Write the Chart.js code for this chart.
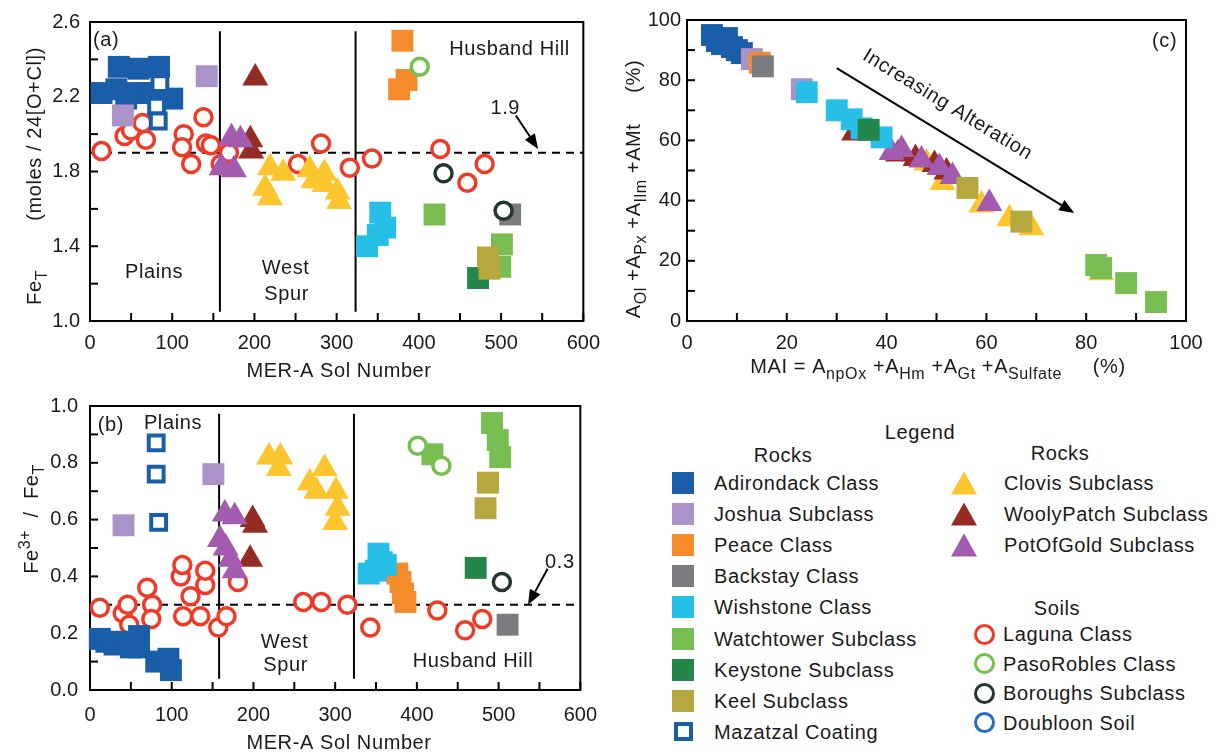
<!DOCTYPE html>
<html lang="en">
<head>
    <meta charset="UTF-8">
    <title>MER-A iron chemistry and alteration</title>
    <script src="https://cdn.jsdelivr.net/npm/chart.js"></script>
    <style>
        body {
            margin: 0;
            background: #fff;
            font-family: "Liberation Sans", Arial, sans-serif;
            color: #1a1a1a;
        }

        .page {
            position: relative;
            width: 1220px;
            height: 755px;
            overflow: hidden;
        }

        canvas { position: absolute; }
        #chartA { left: 0; top: 0; }
        #chartB { left: 0; top: 382px; }
        #chartC { left: 610px; top: 0; }

        .lg {
            position: absolute;
            font-size: 20px;
            line-height: 22px;
            letter-spacing: 0.6px;
            white-space: nowrap;
        }

        .head { transform: translateX(-50%); }
        .mk { position: absolute; box-sizing: border-box; }
        .sq { width: 22px; height: 22px; }
        .hsq { width: 19px; height: 19px; border: 4px solid #1a5ea9; background: #fff; }
        .tri { width: 26px; height: 23px; clip-path: polygon(50% 0, 100% 100%, 0 100%); }
        .ring { width: 21px; height: 21px; border: 3.5px solid; border-radius: 50%; }
    </style>
</head>
<body>
<div class="page">
    <canvas id="chartA" width="610" height="382"></canvas>
    <canvas id="chartB" width="610" height="373"></canvas>
    <canvas id="chartC" width="610" height="382"></canvas>

    <div class="lg head" style="left:920px; top:421px;">Legend</div>
    <div class="lg head" style="left:783px; top:444px;">Rocks</div>
    <div class="lg head" style="left:1060px; top:442px;">Rocks</div>
    <div class="lg head" style="left:1057px; top:597px;">Soils</div>
    <div id="legendItems"></div>
</div>

<script>
    // ---- data: [sol or MAI, value] pairs ----
    const solTickLabels = ['0', '100', '200', '300', '400', '500', '600'];
    const feTickLabels = ['1.0', '1.4', '1.8', '2.2', '2.6'];
    const ratioTickLabels = ['0.0', '0.2', '0.4', '0.6', '0.8', '1.0'];
    const pctTickLabels = ['0', '20', '40', '60', '80', '100'];

    // panel (a): Fe_T
    const lagunaA = [[14, 1.91], [42, 1.99], [50, 2.02], [68, 1.97], [64, 2.06], [114, 2.00], [112, 1.93], [123, 1.84], [138, 2.09], [141, 1.95], [147, 1.94], [159, 1.84], [169, 1.90], [253, 1.84], [281, 1.95], [316, 1.82], [343, 1.87], [426, 1.92], [459, 1.74], [480, 1.84]];
    const clovisA = [[219, 1.82], [235, 1.79], [213, 1.71], [219, 1.66], [267, 1.81], [285, 1.79], [272, 1.75], [285, 1.73], [301, 1.69], [303, 1.64]];
    const woolyA = [[201, 2.30], [195, 1.97], [196, 1.91]];
    const potOfGoldA = [[172, 1.98], [183, 1.97], [160, 1.82], [175, 1.81]];
    const adirondackA = [[35, 2.36], [59, 2.35], [84, 2.36], [14, 2.22], [32, 2.24], [58, 2.22], [74, 2.22], [100, 2.19], [44, 2.19]];
    const joshuaA = [[142, 2.31], [40, 2.10]];
    const peaceA = [[380, 2.50], [385, 2.29], [376, 2.24]];
    const backstayA = [[511, 1.57]];
    const wishstoneA = [[353, 1.58], [359, 1.50], [350, 1.46], [337, 1.40]];
    const watchtowerA = [[419, 1.57], [501, 1.41], [499, 1.29]];
    const keystoneA = [[472, 1.23]];
    const keelA = [[484, 1.34], [486, 1.28]];
    const mazatzalA = [[85, 2.27], [81, 2.15], [83, 2.07]];
    const pasoRoblesA = [[401, 2.36]];
    const boroughsA = [[430, 1.79], [503, 1.59]];

    // panel (b): Fe3+/Fe_T
    const lagunaB = [[12, 0.29], [40, 0.27], [46, 0.30], [48, 0.23], [70, 0.36], [76, 0.30], [75, 0.25], [111, 0.40], [113, 0.44], [114, 0.26], [123, 0.33], [135, 0.26], [141, 0.37], [141, 0.42], [157, 0.22], [167, 0.26], [181, 0.38], [261, 0.31], [283, 0.31], [315, 0.30], [343, 0.22], [425, 0.28], [459, 0.21], [480, 0.25]];
    const clovisB = [[219, 0.82], [233, 0.82], [231, 0.78], [269, 0.73], [287, 0.78], [277, 0.70], [301, 0.70], [303, 0.64], [300, 0.59]];
    const woolyB = [[199, 0.60], [202, 0.58], [196, 0.46]];
    const potOfGoldB = [[165, 0.62], [177, 0.61], [159, 0.53], [166, 0.50], [172, 0.46], [177, 0.42]];
    const adirondackB = [[12, 0.18], [20, 0.17], [30, 0.16], [46, 0.17], [50, 0.15], [60, 0.19], [60, 0.15], [81, 0.10], [96, 0.11], [99, 0.07]];
    const joshuaB = [[41, 0.58], [151, 0.76]];
    const peaceB = [[376, 0.41], [380, 0.38], [383, 0.34], [386, 0.31]];
    const backstayB = [[511, 0.23]];
    const wishstoneB = [[353, 0.48], [357, 0.45], [341, 0.41], [350, 0.42], [362, 0.44]];
    const watchtowerB = [[419, 0.83], [492, 0.94], [499, 0.88], [502, 0.82]];
    const keystoneB = [[472, 0.43]];
    const keelB = [[487, 0.73], [484, 0.64]];
    const mazatzalB = [[81, 0.87], [81, 0.76], [84, 0.59]];
    const pasoRoblesB = [[401, 0.86], [430, 0.79]];
    const boroughsB = [[504, 0.38]];

    // panel (c): primary minerals vs MAI (%)
    const clovisC = [[48, 52.5], [51.2, 46], [59, 38.5], [64.6, 34], [69, 31], [83, 16]];
    const woolyC = [[33.5, 62.5], [42.3, 55.5], [45.8, 54], [49.6, 52], [52, 49.5]];
    const potOfGoldC = [[41, 56], [43, 57], [47, 53.5], [50.6, 51], [53.2, 48], [60.6, 39]];
    const adirondackC = [[5, 95], [6, 93], [8, 94], [9, 91], [11, 89], [7, 92], [10, 90]];
    const joshuaC = [[13, 87], [23, 77]];
    const peaceC = [[14.6, 85.8]];
    const backstayC = [[15.2, 84.6]];
    const wishstoneC = [[24, 76], [30, 70], [33, 67], [35, 64], [39, 61]];
    const watchtowerC = [[82, 18.6], [83, 17.6], [88, 12.6], [94, 6.3]];
    const keystoneC = [[36.4, 63.5]];
    const keelC = [[56.2, 44.2], [67, 33]];

    const FONT = '"Liberation Sans", Arial, sans-serif';
    const INK = '#1a1a1a';

    const styles = {
        laguna: { shape: 'circle', color: '#ee3a27' },
        pasoRobles: { shape: 'circle', color: '#74c14e' },
        boroughs: { shape: 'circle', color: '#24372f' },
        doubloon: { shape: 'circle', color: '#1f6fbd' },
        clovis: { shape: 'triangle', color: '#fdc62f' },
        wooly: { shape: 'triangle', color: '#952c23' },
        potOfGold: { shape: 'triangle', color: '#a25bae' },
        adirondack: { shape: 'rect', color: '#1a5ea9' },
        joshua: { shape: 'rect', color: '#a993c9' },
        peace: { shape: 'rect', color: '#f58b2b' },
        backstay: { shape: 'rect', color: '#7a7c7f' },
        wishstone: { shape: 'rect', color: '#27bfe7' },
        watchtower: { shape: 'rect', color: '#78bd52' },
        keystone: { shape: 'rect', color: '#23864a' },
        keel: { shape: 'rect', color: '#b4a83f' },
        mazatzal: { shape: 'rect', color: '#1a5ea9', hollow: true }
    };

    // order: first series in the list ends up at the bottom of the stack
    function toDataset(key, pts, order) {
        const s = styles[key];
        const ds = { label: key, data: pts, pointStyle: s.shape, clip: false, order: order };
        if (s.shape === 'circle') {
            return Object.assign(ds, { pointRadius: 8.5, pointBackgroundColor: '#fff', pointBorderColor: s.color, pointBorderWidth: 3.5 });
        }
        if (s.hollow) {
            return Object.assign(ds, { pointRadius: 10.5, pointBackgroundColor: '#fff', pointBorderColor: s.color, pointBorderWidth: 4 });
        }
        if (s.shape === 'triangle') {
            return Object.assign(ds, { pointRadius: 15, pointBackgroundColor: s.color, pointBorderWidth: 0 });
        }
        return Object.assign(ds, { pointRadius: 15.5, pointBackgroundColor: s.color, pointBorderWidth: 0 });
    }

    // ---- drawing helpers ----
    function line(ctx, x0, y0, x1, y1) {
        ctx.beginPath();
        ctx.moveTo(x0, y0);
        ctx.lineTo(x1, y1);
        ctx.stroke();
    }

    function arrow(ctx, x0, y0, x1, y1) {
        const ang = Math.atan2(y1 - y0, x1 - x0);
        const len = 15, half = 6;
        const bx = x1 - len * Math.cos(ang), by = y1 - len * Math.sin(ang);
        line(ctx, x0, y0, bx, by);
        ctx.beginPath();
        ctx.moveTo(x1, y1);
        ctx.lineTo(bx + half * Math.sin(ang), by - half * Math.cos(ang));
        ctx.lineTo(bx - half * Math.sin(ang), by + half * Math.cos(ang));
        ctx.closePath();
        ctx.fill();
    }

    // parts: [text, 'sub' | 'sup' | undefined], centred on x, baseline at y
    function drawRich(ctx, parts, x, y, rot) {
        const fontOf = p => (p[1] ? '16px ' : '20px ') + FONT;
        ctx.save();
        ctx.translate(x, y);
        ctx.rotate(rot || 0);
        ctx.fillStyle = INK;
        ctx.letterSpacing = '0.6px';
        ctx.textBaseline = 'alphabetic';
        ctx.textAlign = 'left';
        let w = 0;
        parts.forEach(p => { ctx.font = fontOf(p); w += ctx.measureText(p[0]).width; });
        let cx = -w / 2;
        parts.forEach(p => {
            ctx.font = fontOf(p);
            const dy = p[1] === 'sub' ? 6 : p[1] === 'sup' ? -8 : 0;
            ctx.fillText(p[0], cx, dy);
            cx += ctx.measureText(p[0]).width;
        });
        ctx.restore();
    }

    const panelDecor = {
        id: 'panelDecor',
        beforeDatasetsDraw(chart, args, opts) {
            const { ctx, chartArea: a, scales: { x, y } } = chart;
            ctx.save();
            ctx.strokeStyle = '#000';
            ctx.fillStyle = '#000';
            ctx.lineWidth = 2;
            ctx.strokeRect(a.left, a.top, a.right - a.left, a.bottom - a.top);
            x.ticks.forEach(t => {
                const px = x.getPixelForValue(t.value);
                line(ctx, px, a.bottom, px, a.bottom - 8);
            });
            y.ticks.forEach(t => {
                const py = y.getPixelForValue(t.value);
                line(ctx, a.left, py, a.left + 8, py);
            });
            (opts.vlines || []).forEach(v => {
                const px = x.getPixelForValue(v[0]);
                line(ctx, px, y.getPixelForValue(v[1]), px, y.getPixelForValue(v[2]));
            });
            if (opts.dashY !== undefined) {
                const py = y.getPixelForValue(opts.dashY);
                ctx.setLineDash([8, 6]);
                line(ctx, a.left, py, a.right, py);
                ctx.setLineDash([]);
            }
            (opts.arrows || []).forEach(r => {
                arrow(ctx, x.getPixelForValue(r[0]), y.getPixelForValue(r[1]), x.getPixelForValue(r[2]), y.getPixelForValue(r[3]));
            });
            ctx.font = '20px ' + FONT;
            ctx.letterSpacing = '0.6px';
            ctx.fillStyle = INK;
            ctx.textBaseline = 'middle';
            (opts.texts || []).forEach(t => {
                ctx.save();
                ctx.translate(x.getPixelForValue(t.x), y.getPixelForValue(t.y));
                if (t.along) {
                    const r = t.along;
                    ctx.rotate(Math.atan2(y.getPixelForValue(r[3]) - y.getPixelForValue(r[1]), x.getPixelForValue(r[2]) - x.getPixelForValue(r[0])));
                }
                ctx.textAlign = t.align || 'left';
                ctx.fillText(t.text, 0, 0);
                ctx.restore();
            });
            ctx.restore();
        },
        afterDraw(chart, args, opts) {
            (opts.titles || []).forEach(t => drawRich(chart.ctx, t.parts, t.x, t.y, t.rot));
        }
    };

    function axis(min, max, step, labels, fmt, padding, fit) {
        return {
            type: 'linear',
            min: min,
            max: max,
            afterFit: fit,
            grid: { display: false, drawTicks: false },
            border: { display: false },
            ticks: {
                stepSize: step,
                autoSkip: false,
                maxRotation: 0,
                padding: padding,
                color: INK,
                font: { family: FONT, size: 20 },
                callback: v => {
                    const s = fmt(v);
                    return labels.includes(s) ? s : '';
                }
            }
        };
    }

    const fmt1 = v => v.toFixed(1);
    const fmt0 = v => String(Math.round(v));

    function makePanel(id, series, scales, padding, decor) {
        new Chart(document.getElementById(id), {
            type: 'scatter',
            data: { datasets: series.map((s, i) => toDataset(s[0], s[1], series.length - i)) },
            options: {
                responsive: false,
                animation: false,
                events: [],
                layout: { padding: padding },
                scales: scales,
                plugins: { legend: { display: false }, tooltip: { enabled: false }, panelDecor: decor }
            },
            plugins: [panelDecor]
        });
    }

    const UP = -Math.PI / 2;

    // ---- panel (a) ----
    makePanel('chartA', [
        ['laguna', lagunaA], ['clovis', clovisA], ['wooly', woolyA], ['potOfGold', potOfGoldA],
        ['adirondack', adirondackA], ['joshua', joshuaA], ['peace', peaceA], ['backstay', backstayA],
        ['wishstone', wishstoneA], ['watchtower', watchtowerA], ['keystone', keystoneA], ['keel', keelA],
        ['mazatzal', mazatzalA], ['pasoRobles', pasoRoblesA], ['boroughs', boroughsA]
    ], {
        x: axis(0, 600, 50, solTickLabels, fmt0, 10, s => { s.height = 61; }),
        y: axis(1.0, 2.6, 0.2, feTickLabels, fmt1, 10, s => { s.width = 90; })
    }, { top: 21, right: 22, left: 0, bottom: 0 }, {
        vlines: [[158, 2.55, 1.05], [323, 2.55, 1.05]],
        dashY: 1.9,
        arrows: [[518, 2.10, 545, 1.92]],
        texts: [
            { text: '(a)', x: 3.6, y: 2.50 },
            { text: 'Plains', x: 78, y: 1.26, align: 'center' },
            { text: 'West', x: 209, y: 1.28 },
            { text: 'Spur', x: 212, y: 1.14 },
            { text: 'Husband Hill', x: 437, y: 2.455 },
            { text: '1.9', x: 505, y: 2.135, align: 'center' }
        ],
        titles: [
            { parts: [['Fe'], ['T', 'sub'], ['        (moles / 24[O+Cl])']], x: 41, y: 176, rot: UP },
            { parts: [['MER-A Sol Number']], x: 339, y: 377 }
        ]
    });

    // ---- panel (b) ----
    makePanel('chartB', [
        ['laguna', lagunaB], ['clovis', clovisB], ['wooly', woolyB], ['potOfGold', potOfGoldB],
        ['adirondack', adirondackB], ['joshua', joshuaB], ['peace', peaceB], ['backstay', backstayB],
        ['wishstone', wishstoneB], ['watchtower', watchtowerB], ['keystone', keystoneB], ['keel', keelB],
        ['mazatzal', mazatzalB], ['pasoRobles', pasoRoblesB], ['boroughs', boroughsB]
    ], {
        x: axis(0, 600, 50, solTickLabels, fmt0, 13, s => { s.height = 65; }),
        y: axis(0, 1, 0.1, ratioTickLabels, fmt1, 12, s => { s.width = 90; })
    }, { top: 8, right: 22, left: 0, bottom: 0 }, {
        vlines: [[158, 0.973, 0.04], [323, 0.973, 0.04]],
        dashY: 0.3,
        arrows: [[560, 0.427, 536, 0.30]],
        texts: [
            { text: '(b)', x: 9.6, y: 0.933 },
            { text: 'Plains', x: 66, y: 0.937 },
            { text: 'West', x: 209, y: 0.167 },
            { text: 'Spur', x: 212, y: 0.087 },
            { text: 'Husband Hill', x: 395, y: 0.10 },
            { text: '0.3', x: 575, y: 0.45, align: 'center' }
        ],
        titles: [
            { parts: [['Fe'], ['3+', 'sup'], ['  /  Fe'], ['T', 'sub']], x: 38, y: 137, rot: UP },
            { parts: [['MER-A Sol Number']], x: 339, y: 367 }
        ]
    });

    // ---- panel (c) ----
    const alterationArrow = [30, 84, 77.6, 35.9];
    makePanel('chartC', [
        ['clovis', clovisC], ['wooly', woolyC], ['potOfGold', potOfGoldC],
        ['adirondack', adirondackC], ['joshua', joshuaC], ['peace', peaceC], ['backstay', backstayC],
        ['wishstone', wishstoneC], ['watchtower', watchtowerC], ['keystone', keystoneC], ['keel', keelC]
    ], {
        x: axis(0, 100, 10, pctTickLabels, fmt0, 10, s => { s.height = 61; }),
        y: axis(0, 100, 10, pctTickLabels, fmt0, 6, s => { s.width = 77; })
    }, { top: 20, right: 34, left: 0, bottom: 0 }, {
        arrows: [alterationArrow],
        texts: [
            { text: '(c)', x: 93.2, y: 92.7 },
            { text: 'Increasing Alteration', x: 52.2, y: 71.8, align: 'center', along: alterationArrow }
        ],
        titles: [
            { parts: [['A'], ['Ol', 'sub'], [' +A'], ['Px', 'sub'], [' +A'], ['Ilm', 'sub'], [' +AMt'], ['     (%)']], x: 30, y: 189, rot: UP },
            { parts: [['MAI = A'], ['npOx', 'sub'], [' +A'], ['Hm', 'sub'], [' +A'], ['Gt', 'sub'], [' +A'], ['Sulfate', 'sub'], ['     (%)']], x: 328, y: 373 }
        ]
    });

    // ---- legend ----
    const legendRocks1 = ['adirondack', 'joshua', 'peace', 'backstay', 'wishstone', 'watchtower', 'keystone', 'keel', 'mazatzal'];
    const legendRocks1Names = ['Adirondack Class', 'Joshua Subclass', 'Peace Class', 'Backstay Class', 'Wishstone Class', 'Watchtower Subclass', 'Keystone Subclass', 'Keel Subclass', 'Mazatzal Coating'];
    const legendRocks2 = ['clovis', 'wooly', 'potOfGold'];
    const legendRocks2Names = ['Clovis Subclass', 'WoolyPatch Subclass', 'PotOfGold Subclass'];
    const legendSoils = ['laguna', 'pasoRobles', 'boroughs', 'doubloon'];
    const legendSoilsNames = ['Laguna Class', 'PasoRobles Class', 'Boroughs Subclass', 'Doubloon Soil'];

    function legendItem(key, name, mx, tx, cy) {
        const s = styles[key];
        let cls, w, h, css = '';
        if (s.shape === 'circle') { cls = 'ring'; w = 21; h = 21; css = 'border-color:' + s.color; }
        else if (s.hollow) { cls = 'hsq'; w = 19; h = 19; }
        else if (s.shape === 'triangle') { cls = 'tri'; w = 26; h = 23; css = 'background:' + s.color; }
        else { cls = 'sq'; w = 22; h = 22; css = 'background:' + s.color; }
        return '<div class="mk ' + cls + '" style="left:' + (mx - w / 2) + 'px;top:' + (cy - h / 2) + 'px;' + css + '"></div>' +
            '<div class="lg" style="left:' + tx + 'px;top:' + (cy - 11) + 'px;">' + name + '</div>';
    }

    let html = '';
    legendRocks1.forEach((k, i) => { html += legendItem(k, legendRocks1Names[i], 683, 714, 483 + i * 31.1); });
    legendRocks2.forEach((k, i) => { html += legendItem(k, legendRocks2Names[i], 964, 1004, 483 + i * 31); });
    legendSoils.forEach((k, i) => { html += legendItem(k, legendSoilsNames[i], 984, 1003, 634 + i * 29.5); });
    document.getElementById('legendItems').innerHTML = html;
</script>
</body>
</html>
